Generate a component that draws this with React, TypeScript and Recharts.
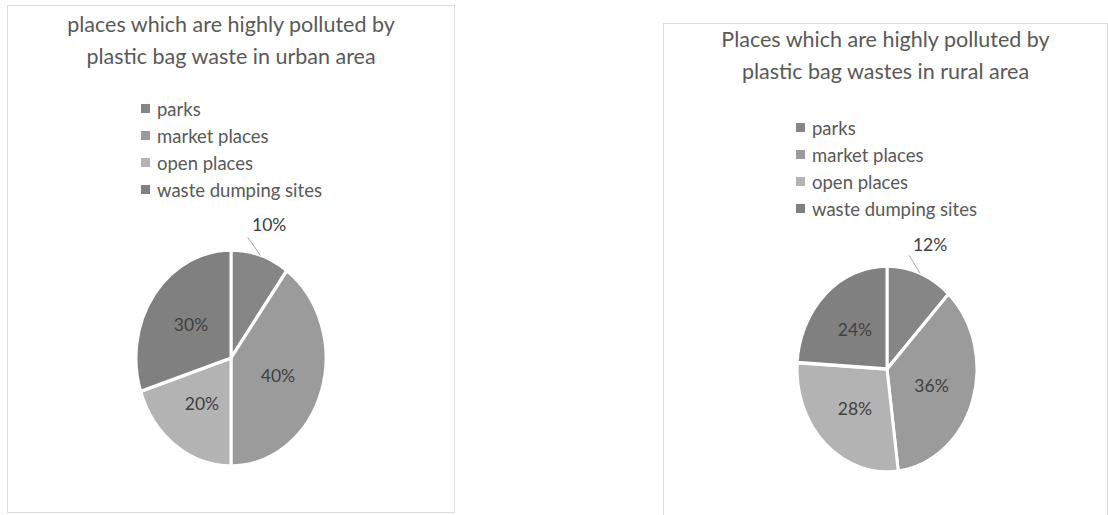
import { PieChart, Pie, Cell, Sector } from "recharts";

const CATEGORIES = ["parks", "market places", "open places", "waste dumping sites"];
const URBAN_SHARES = [10, 40, 20, 30];
const RURAL_SHARES = [12, 36, 28, 24];
const SLICE_COLORS = ["#868686", "#9b9b9b", "#b3b3b3", "#808080"];

const URBAN_TITLE = ["places which are highly polluted by", "plastic bag waste in urban area"];
const RURAL_TITLE = ["Places which are highly polluted by", "plastic bag wastes in rural area"];

const FONT = "Lato, 'Open Sans', sans-serif";
const RAD = Math.PI / 180;

interface PanelProps {
  title: string[];
  shares: number[];
  left: number;
  top: number;
  width: number;
  height: number;
  cx: number;
  cy: number;
  rx: number;
  ry: number;
  titleTop: number;
  legendLeft: number;
  legendTop: number;
}

// the source pies are slightly squashed ellipses, so stretch each sector vertically
function makeShape(k: number) {
  return (props: any) => (
    <g transform={`translate(0 ${props.cy}) scale(1 ${k}) translate(0 ${-props.cy})`}>
      <Sector {...props} />
    </g>
  );
}

function makeLabel(k: number) {
  return (props: any) => {
    const { cx, cy, midAngle, outerRadius, percent, value, index } = props;
    const pos = (r: number, a: number) => ({
      x: cx + r * Math.cos(-a * RAD),
      y: cy + r * k * Math.sin(-a * RAD),
    });
    if (percent < 0.15) {
      const p1 = pos(outerRadius * 1.0, midAngle);
      const p2 = pos(outerRadius * 1.13, midAngle + 9);
      const t = pos(outerRadius * 1.3, midAngle);
      return (
        <g key={`lbl-${index}`}>
          <line x1={p1.x} y1={p1.y} x2={p2.x} y2={p2.y} stroke="#a6a6a6" strokeWidth={1} />
          <text x={t.x} y={t.y} textAnchor="middle" dominantBaseline="central" fill="#404040" fontSize={17.5} fontFamily={FONT}>
            {`${value}%`}
          </text>
        </g>
      );
    }
    const t = pos(outerRadius * 0.52, midAngle);
    return (
      <text key={`lbl-${index}`} x={t.x} y={t.y} textAnchor="middle" dominantBaseline="central" fill="#404040" fontSize={17.5} fontFamily={FONT}>
        {`${value}%`}
      </text>
    );
  };
}

function LegendList({ left, top }: { left: number; top: number }) {
  return (
    <div style={{ position: "absolute", left, top, fontFamily: FONT, fontSize: 18.5, color: "#595959" }}>
      {CATEGORIES.map((name, i) => (
        <div key={name} style={{ display: "flex", alignItems: "center", height: 27 }}>
          <span style={{ width: 9, height: 9, background: SLICE_COLORS[i], marginRight: 7, display: "inline-block" }} />
          <span>{name}</span>
        </div>
      ))}
    </div>
  );
}

function PiePanel(p: PanelProps) {
  const data = CATEGORIES.map((name, i) => ({ name, value: p.shares[i] }));
  const k = p.ry / p.rx;
  return (
    <div
      style={{
        position: "absolute",
        left: p.left,
        top: p.top,
        width: p.width,
        height: p.height,
        border: "1px solid #dcdcdc",
        background: "#fff",
      }}
    >
      <div
        style={{
          position: "absolute",
          left: 0,
          width: p.width,
          top: p.titleTop,
          textAlign: "center",
          fontFamily: FONT,
          fontSize: 21.5,
          lineHeight: "32px",
          color: "#595959",
        }}
      >
        {p.title.map((line) => (
          <div key={line}>{line}</div>
        ))}
      </div>
      <LegendList left={p.legendLeft} top={p.legendTop} />
      <PieChart width={p.width} height={p.height} style={{ position: "absolute", left: 0, top: 0 }}>
        <Pie
          data={data}
          dataKey="value"
          nameKey="name"
          cx={p.cx}
          cy={p.cy}
          outerRadius={p.rx}
          startAngle={90}
          endAngle={-270}
          stroke="#ffffff"
          strokeWidth={3}
          shape={makeShape(k)}
          label={makeLabel(k)}
          labelLine={false}
          isAnimationActive={false}
        >
          {data.map((d, i) => (
            <Cell key={d.name} fill={SLICE_COLORS[i]} />
          ))}
        </Pie>
      </PieChart>
    </div>
  );
}

export default function App() {
  return (
    <div style={{ position: "absolute", left: 0, top: 0, width: 1108, height: 515, background: "#fff", overflow: "hidden" }}>
      <PiePanel
        title={URBAN_TITLE}
        shares={URBAN_SHARES}
        left={7}
        top={5}
        width={446}
        height={506}
        cx={218}
        cy={347}
        rx={95}
        ry={108}
        titleTop={2}
        legendLeft={133}
        legendTop={89}
      />
      <PiePanel
        title={RURAL_TITLE}
        shares={RURAL_SHARES}
        left={663}
        top={23}
        width={443}
        height={510}
        cx={218}
        cy={340}
        rx={90}
        ry={103}
        titleTop={-1}
        legendLeft={132}
        legendTop={90}
      />
    </div>
  );
}
